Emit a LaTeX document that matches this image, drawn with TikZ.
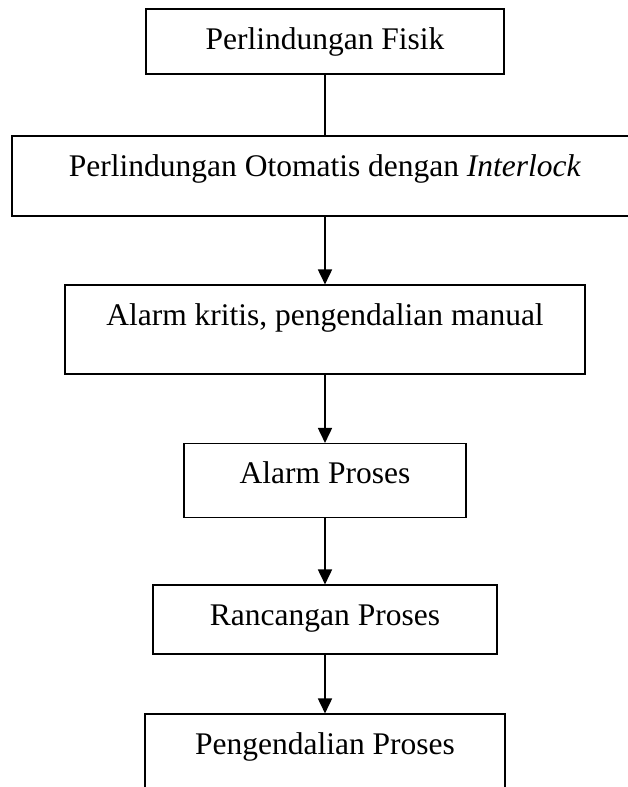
\documentclass[tikz,border=0pt]{standalone}
\usepackage{fontspec}
\setmainfont{Liberation Serif}
\usetikzlibrary{arrows.meta}

\begin{document}
\begin{tikzpicture}[x=1pt, y=-1pt,
  kotak/.style = {draw, line width=1.1pt, inner sep=0pt, minimum width=#1,
    font=\fontsize{31.5}{36}\selectfont, text height=40pt},
  kotak/.default = 300pt,
  panah/.style = {line width=1.7pt, -{Triangle[width=14pt,length=15pt]}}]

\useasboundingbox (0,0) rectangle (627,787);

% Boxes
\node[kotak=358pt, text depth=25pt] (fisik) at (325,41.5) {Perlindungan Fisik};
\node[kotak=626pt, text depth=40pt] (interlock) at (325,176) {Perlindungan Otomatis dengan \textit{Interlock}};
\node[kotak=520pt, text depth=49pt] (kritis) at (325,329.5) {Alarm kritis, pengendalian manual};
\node[kotak=282pt, text depth=34pt] (alarm) at (325,480.5) {Alarm Proses};
\node[kotak=344pt, text depth=29pt] (rancangan) at (325,619.5) {Rancangan Proses};
\node[kotak=360pt, text depth=46pt] (kendali) at (325,757) {Pengendalian Proses};

% Lines
\draw[line width=1.1pt] (fisik) -- (interlock);
\draw[panah] (interlock) -- (kritis);
\draw[panah] (kritis) -- (alarm);
\draw[panah] (alarm) -- (rancangan);
\draw[panah] (rancangan) -- (kendali);

\end{tikzpicture}
\end{document}
